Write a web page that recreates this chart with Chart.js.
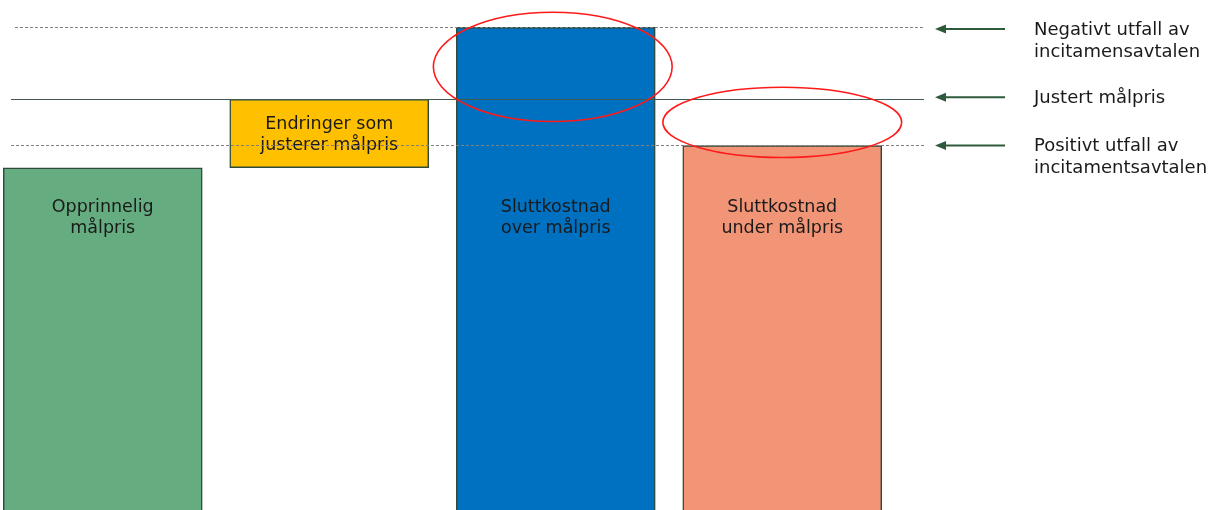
<!DOCTYPE html>
<html>
<head>
<meta charset="utf-8">
<script src="https://cdn.jsdelivr.net/npm/chart.js@4.4.1/dist/chart.umd.min.js"></script>
<style>
  html, body { margin: 0; padding: 0; background: #fff; }
  #wrap { width: 1209px; height: 510px; position: relative; }
</style>
</head>
<body>
<div id="wrap"><canvas id="chart"></canvas></div>
<script>
// Data (arbitrary cost units)
const categories = ['Opprinnelig målpris', 'Endringer som justerer målpris', 'Sluttkostnad over målpris', 'Sluttkostnad under målpris'];
const barLines = [['Opprinnelig', 'målpris'], ['Endringer som', 'justerer målpris'], ['Sluttkostnad', 'over målpris'], ['Sluttkostnad', 'under målpris']];
const barStart = [0, 100, 0, 0];
const barEnd = [100, 120, 141, 106.5];
const levelNames = [['Negativt utfall av', 'incitamensavtalen'], ['Justert målpris'], ['Positivt utfall av', 'incitamentsavtalen']];
const levelValues = [141, 120, 106.5];
const circledBars = [2, 3];       // bars whose tops are circled
const circledBetween = [[0, 1], [1, 2]]; // levels each circle spans

const barColors = ['#65ad80', '#ffc000', '#0070c0', '#f29577'];
const BAR_FONT = '17.5px "DejaVu Sans", Verdana, sans-serif';
const SIDE_FONT = '18px "DejaVu Sans", Verdana, sans-serif';

// Reference lines, arrows, labels and circles
const overlay = {
    id: 'overlay',
    afterDatasetsDraw(chart) {
        const ctx = chart.ctx;
        const y = chart.scales.y;
        const meta = chart.getDatasetMeta(0);
        ctx.save();

        // text inside bars
        ctx.font = BAR_FONT;
        ctx.fillStyle = '#1a1a1a';
        ctx.textAlign = 'center';
        ctx.textBaseline = 'middle';
        meta.data.forEach((bar, i) => {
            const lines = barLines[i];
            const cy = barStart[i] > 0 ? (bar.y + bar.base) / 2 + 1 : chart.chartArea.top + 218;
            lines.forEach((t, k) => {
                ctx.fillText(t, bar.x, cy + (k - (lines.length - 1) / 2) * 21);
            });
        });

        // horizontal level lines
        levelValues.forEach((v, i) => {
            const py = Math.round(y.getPixelForValue(v)) + 0.5;
            ctx.beginPath();
            ctx.lineWidth = 1;
            if (i === 1) {
                ctx.setLineDash([]);
                ctx.strokeStyle = '#3f5a50';
                ctx.moveTo(11, py);
            } else {
                ctx.setLineDash([3, 2]);
                ctx.strokeStyle = '#808080';
                ctx.moveTo(i === 0 ? 15 : 11, py);
            }
            ctx.lineTo(924, py);
            ctx.stroke();
        });
        ctx.setLineDash([]);

        // arrows and labels on the right
        levelValues.forEach((v, i) => {
            const py = y.getPixelForValue(v) + (i === 0 ? 1.5 : i === 1 ? -2 : 0);
            ctx.strokeStyle = '#2e5a3c';
            ctx.fillStyle = '#2e5a3c';
            ctx.lineWidth = 2;
            ctx.beginPath();
            ctx.moveTo(1005, py);
            ctx.lineTo(944, py);
            ctx.stroke();
            ctx.beginPath();
            ctx.moveTo(935, py);
            ctx.lineTo(946, py - 4.5);
            ctx.lineTo(946, py + 4.5);
            ctx.closePath();
            ctx.fill();

            ctx.fillStyle = '#1a1a1a';
            ctx.font = SIDE_FONT;
            ctx.textAlign = 'left';
            ctx.textBaseline = 'middle';
            levelNames[i].forEach((t, k) => ctx.fillText(t, 1034, py + 1 + k * 22));
        });

        // red circles around the bar tops
        ctx.strokeStyle = '#ff1a1a';
        ctx.lineWidth = 1.6;
        circledBars.forEach((b, i) => {
            const bar = meta.data[b];
            const [a, c] = circledBetween[i];
            const ya = y.getPixelForValue(levelValues[a]);
            const yc = y.getPixelForValue(levelValues[c]);
            const cy = (ya + yc) / 2 + (i === 0 ? 3.5 : 0);
            const ry = Math.abs(yc - ya) * 0.76;
            const rx = bar.width * 0.6;
            ctx.beginPath();
            ctx.ellipse(bar.x - (i === 0 ? 3 : 0), cy, rx, ry, 0, 0, Math.PI * 2);
            ctx.stroke();
        });
        ctx.restore();
    }
};

new Chart(document.getElementById('chart').getContext('2d'), {
    type: 'bar',
    data: {
        labels: categories,
        datasets: [{
            data: barStart.map((s, i) => ({ x: i, y: [s, barEnd[i]] })),
            backgroundColor: barColors,
            borderColor: '#2f4a3a',
            borderWidth: 1.5,
            borderSkipped: (c) => barStart[c.dataIndex] > 0 ? false : 'start',
            barThickness: 199
        }]
    },
    options: {
        responsive: true,
        maintainAspectRatio: false,
        animation: false,
        layout: { padding: 0 },
        scales: {
            x: { type: 'linear', display: false, offset: false, min: -0.4536, max: 4.884 },
            y: { display: false, min: 0, max: 149 }
        },
        plugins: {
            legend: { display: false },
            tooltip: { enabled: false }
        }
    },
    plugins: [overlay]
});
</script>
</body>
</html>
